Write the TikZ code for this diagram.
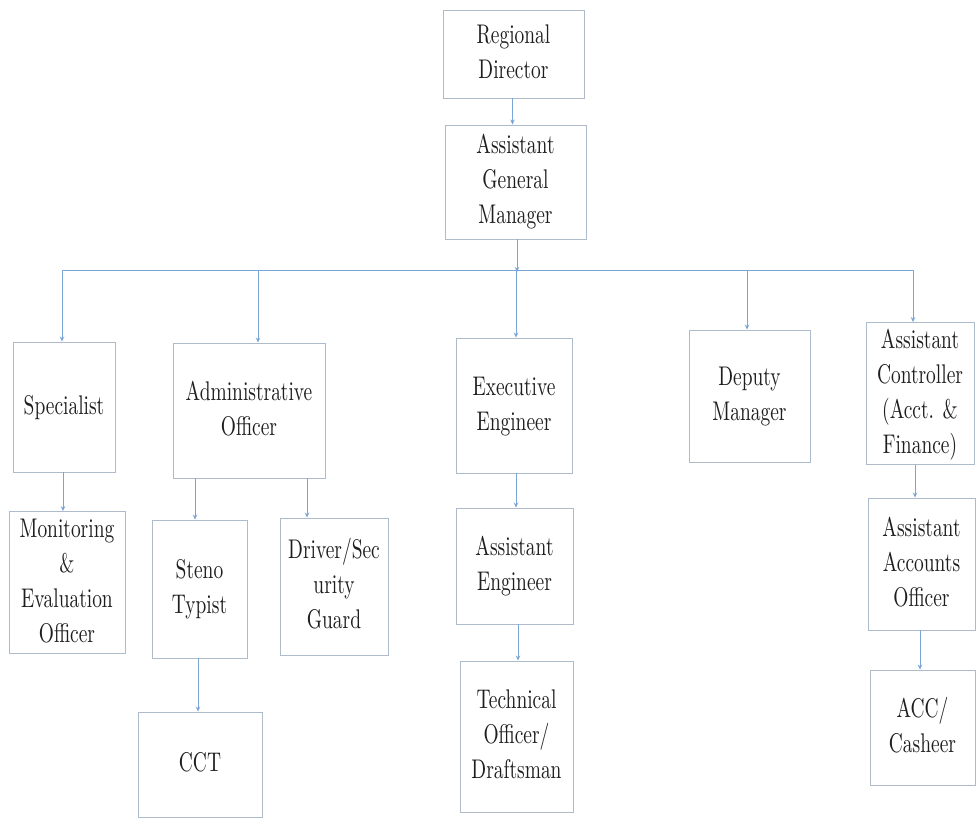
\documentclass[tikz,border=0pt]{standalone}
\usepackage{fontspec}
\setmainfont{lmroman10-regular.otf}
\usetikzlibrary{arrows.meta}
\definecolor{boxline}{HTML}{AEBBCB}
\definecolor{connline}{HTML}{7BA5D6}
\definecolor{txt}{HTML}{1E1E1E}
\newcommand{\lbl}[1]{\scalebox{0.72}[1]{\begin{tabular}{@{}c@{}}#1\end{tabular}}}
\tikzset{
  box/.style={draw=boxline, line width=0.9pt, rectangle, align=center, inner sep=1pt,
    text=txt, font=\fontsize{27}{35}\selectfont},
  conn/.style={draw=connline, line width=0.8pt, -{Stealth[length=5pt,width=4.5pt]}},
  busline/.style={draw=connline, line width=0.8pt}
}
\begin{document}
\begin{tikzpicture}[x=1pt,y=-1pt]
\useasboundingbox (0,0) rectangle (976,818);
\fill[white] (0,0) rectangle (976,818);

% level 1-2
\node[box, minimum width=141pt, minimum height=88pt] (rd) at (513.5,54) {\lbl{Regional\\Director}};
\node[box, minimum width=141pt, minimum height=114pt] (agm) at (515.5,182) {\lbl{Assistant\\General\\Manager}};

% level 3
\node[box, minimum width=102pt, minimum height=130pt] (spec) at (64,407) {\lbl{Specialist}};
\node[box, minimum width=152pt, minimum height=135pt] (admin) at (249,410.5) {\lbl{Administrative\\Officer}};
\node[box, minimum width=116pt, minimum height=135pt] (exec) at (514,405.5) {\lbl{Executive\\Engineer}};
\node[box, minimum width=121pt, minimum height=132pt] (dep) at (749.5,396) {\lbl{Deputy\\Manager}};
\node[box, minimum width=108pt, minimum height=133pt] (ctrl) at (920,393.5) {\lbl{Assistant\\Controller\\(Acct. \&\\Finance)}};

% level 4
\node[box, minimum width=116pt, minimum height=141pt] (mon) at (67,582.5) {\lbl{Monitoring\\\&\\Evaluation\\Officer}};
\node[box, minimum width=95pt, minimum height=138pt] (steno) at (199.5,589) {\lbl{Steno\\Typist}};
\node[box, minimum width=108pt, minimum height=137pt] (drv) at (334,586.5) {\lbl{Driver/Sec\\urity\\Guard}};
\node[box, minimum width=117pt, minimum height=116pt] (aeng) at (514.5,566) {\lbl{Assistant\\Engineer}};
\node[box, minimum width=107pt, minimum height=132pt] (aao) at (921.5,564) {\lbl{Assistant\\Accounts\\Officer}};

% level 5
\node[box, minimum width=124pt, minimum height=105pt] (cct) at (200,764.5) {\lbl{CCT}};
\node[box, minimum width=113pt, minimum height=151pt] (tech) at (516.5,736.5) {\lbl{Technical\\Officer/\\Draftsman}};
\node[box, minimum width=105pt, minimum height=115pt] (acc) at (922.5,727.5) {\lbl{ACC/\\Casheer}};

% bus and drop points
\coordinate (bus) at (517,270);
\coordinate (dspec) at (62,270);
\coordinate (dadmin) at (258,270);
\coordinate (dexec) at (516,270);
\coordinate (ddep) at (747,270);
\coordinate (dctrl) at (913,270);
\coordinate (dsteno) at (195,478);
\coordinate (ddrv) at (307,478);
\coordinate (dcct) at (198,660);

\draw[conn] ([xshift=-1pt]rd.south) -- ([xshift=-3pt]agm.north);
\draw[conn] ([xshift=1.5pt]agm.south) -- ([yshift=-2pt]bus);
\draw[busline] (dspec) -- (dctrl);
\draw[conn] (dspec) -- (dspec |- spec.north);
\draw[conn] (dadmin) -- (dadmin |- admin.north);
\draw[conn] (dexec) -- (dexec |- exec.north);
\draw[conn] (ddep) -- (ddep |- dep.north);
\draw[conn] (dctrl) -- (dctrl |- ctrl.north);

\draw[conn] ([xshift=-1pt]spec.south) -- ([xshift=-4pt]mon.north);
\draw[conn] (dsteno |- admin.south) -- (dsteno |- steno.north);
\draw[conn] (ddrv |- admin.south) -- (ddrv |- drv.north);
\draw[conn] ([xshift=2pt]exec.south) -- ([xshift=1.5pt]aeng.north);
\draw[conn] ([xshift=3.5pt]aeng.south) -- ([xshift=1.5pt]tech.north);
\draw[conn] (dcct |- steno.south) -- (dcct |- cct.north);
\draw[conn] ([xshift=-5pt]ctrl.south) -- ([xshift=-6.5pt]aao.north);
\draw[conn] ([xshift=-1.5pt]aao.south) -- ([xshift=-2.5pt]acc.north);
\end{tikzpicture}
\end{document}
